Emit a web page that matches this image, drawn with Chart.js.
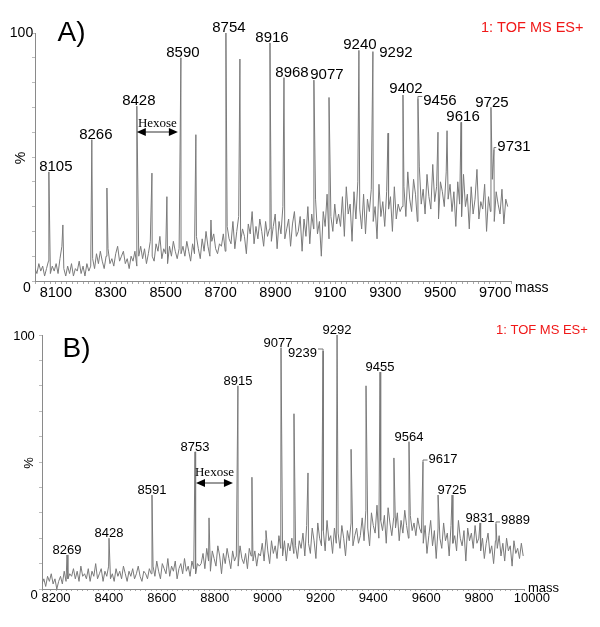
<!DOCTYPE html>
<html><head><meta charset="utf-8">
<script src="https://cdn.jsdelivr.net/npm/chart.js@4"></script>
<style>
html,body{margin:0;padding:0;background:#fff;width:600px;height:627px;overflow:hidden}
#wa{position:absolute;left:0;top:0;width:600px;height:310px}
#wb{position:absolute;left:0;top:310px;width:600px;height:317px}
</style></head><body>
<div id="wa"><canvas id="ca"></canvas></div>
<div id="wb"><canvas id="cb"></canvas></div>
<script>
// ---------- Panel A data ----------
const massStartA = 8024, massStepA = 7;
const noiseA = [
5,3,7,4,6,2,5,8,3,6,4,7,3,9,14,5,2,6,3,7,2,5,4,8,3,6,2,7,4,
6,9,5,11,7,12,8,5,10,13,7,9,6,11,14,8,10,12,7,9,5,10,
8,12,6,10,14,9,13,7,11,16,10,8,15,12,18,9,13,11,7,14,10,16,12,9,13,11,
14,10,16,12,8,15,11,18,13,9,17,12,20,14,10,16,19,13,11,15,
14,19,12,22,17,15,24,13,20,26,16,21,18,11,23,19,28,15,22,17,25,20,14,24,18,21,
16,22,27,13,24,19,30,17,21,25,14,23,28,18,20,26,
12,25,18,30,15,27,21,33,19,24,10,28,22,35,17,26,20,31,23,27,
22,34,18,38,27,31,16,36,25,40,29,21,35,19,33,28,37,24,30,17,39,26,32,22,36,29,34,20,38,25,31,28,
30,38,26,44,33,28,41,35,24,46,31,37,27,43,34,29,47,32,38,25,40,36,30,44,33,39,
28,36,22,40,31,26,43,30,35,21,38,27,33,45,25,32,29,39,20,34,28,41,24,36,31,27,37,23,33,30
];
const peakMassA   = [8074.5,8125.5,8231,8286,8395,8450,8504.5,8555.5,8610,8665,8719.5,8770.5,8880,8931,9040,9095,9204,9255,9310,9364.5,9419,9492,9525,9576,9685,9696];
const peakHeightA = [44,22.6,57,37.5,70.5,43.5,34,90,59,24.6,100,89.5,96,82,81,74,93,92.5,59.6,75,73.6,60,60.6,64,70,53];
const peakTextA   = ['8105','','8266','','8428','','','8590','','','8754','','8916','8968','9077','','9240','9292','','9402','9456','','','9616','9725','9731'];
const tickLabelsA = [8100,8300,8500,8700,8900,9100,9300,9500,9700];

// ---------- Panel B data ----------
const massStartB = 8147, massStepB = 7;
const noiseB = [
2,4,1,5,3,6,2,4,0,3,5,2,7,3,4,6,
5,8,4,7,3,9,5,6,4,8,3,7,5,10,4,6,8,3,7,5,9,4,6,3,8,5,7,4,9,6,3,7,5,8,4,6,9,5,3,7,6,4,8,
6,9,5,11,7,4,10,8,6,12,5,9,7,11,4,8,10,6,12,7,9,5,11,8,6,10,9,
10,14,8,16,11,7,15,12,9,17,13,6,14,10,16,12,8,15,11,13,9,17,12,10,14,8,16,13,11,15,9,14,
13,18,11,20,15,10,19,14,17,12,21,16,13,19,11,18,15,20,14,17,12,19,
16,22,13,25,18,14,24,19,12,26,20,17,23,15,27,19,21,14,24,18,22,16,25,20,13,23,19,26,17,21,24,18,
21,28,19,31,24,17,30,25,22,33,20,27,23,29,18,32,26,21,28,24,30,19,27,22,31,25,20,29,23,26,21,28,24,
22,18,25,14,21,27,17,23,12,24,20,16,26,19,22,13,25,18,21,15,27,20,17,23,11,24,19,22,16,25,18,20,
15,20,12,18,22,14,17,10,19,16,21,13,18,11,20,15,17,9,19,14,16,12,18,13
];
const peakMassB   = [8241.6,8400.5,8563,8725.7,8778.7,8888,8941,8994,9051,9100,9153,9210,9263,9316,9372.5,9425.4,9478,9535,9588,9645,9698,9803.6,9864];
const peakHeightB = [13.4,20,37,54,28,80,44,23,95,69,45.7,93.7,100,55,80,85.4,51.6,58,50,37,37,26,25.6];
const peakTextB   = ['8269','8428','8591','8753','','8915','','','9077','','','9239','9292','','','9455','','9564','9617','','9725','9831','9889'];
const tickLabelsB = [8200,8400,8600,8800,9000,9200,9400,9600,9800,10000];

const tickStep = 20;

// ---------- helpers ----------
function buildSeries(start, step, noise, pm, ph) {
  const pts = noise.map((v, i) => ({x: start + i * step, y: v}));
  pm.forEach((m, i) => pts.push({x: m, y: ph[i]}));
  pts.sort((a, b) => a.x - b.x);
  return pts;
}
const FONT = '"Liberation Sans", Arial, sans-serif';

function decoPlugin(c) {
  return {
    id: 'deco',
    afterDraw(chart) {
      const ctx = chart.ctx, xs = chart.scales.x, ys = chart.scales.y;
      ctx.save();
      ctx.fillStyle = '#000';
      ctx.strokeStyle = '#000';
      // x tick labels (drawn at scale positions, may extend past axis end)
      ctx.font = c.tickSize + 'px ' + FONT;
      ctx.textAlign = 'center';
      ctx.textBaseline = 'middle';
      c.ticks.forEach(v => ctx.fillText(String(v), xs.getPixelForValue(v), c.tickY));
      // peak labels
      ctx.font = c.labelSize + 'px ' + FONT;
      ctx.textAlign = 'center';
      ctx.textBaseline = 'alphabetic';
      c.pm.forEach((m, i) => {
        const t = c.pt[i];
        if (!t) return;
        const nd = c.nudge[t] || [0, 0];
        const ax = xs.getPixelForValue(m), ay = ys.getPixelForValue(c.ph[i]);
        const px = ax + nd[0], py = ay - 1 + nd[1];
        ctx.fillText(t, px, py);
        if (c.leaders.includes(t)) {
          const w = ctx.measureText(t).width;
          const ly = ay - 2;
          const lx = nd[0] > 0 ? px - w / 2 - 1 : px + w / 2 + 1;
          ctx.strokeStyle = '#777';
          ctx.lineWidth = 1;
          ctx.beginPath(); ctx.moveTo(ax, ay); ctx.lineTo(ax, ly); ctx.lineTo(lx, ly); ctx.stroke();
        }
      });
      // y labels
      ctx.font = c.axisSize + 'px ' + FONT;
      ctx.textBaseline = 'middle';
      ctx.textAlign = 'center';
      ctx.fillText('100', c.y100[0], c.y100[1]);
      ctx.fillText('0', c.y0[0], c.y0[1]);
      ctx.save();
      ctx.translate(c.pct[0], c.pct[1]);
      ctx.rotate(-Math.PI / 2);
      ctx.fillText('%', 0, 0);
      ctx.restore();
      // mass
      ctx.textAlign = 'left';
      ctx.textBaseline = 'alphabetic';
      ctx.fillText('mass', c.mass[0], c.mass[1]);
      // panel letter
      ctx.font = c.titleSize + 'px ' + FONT;
      ctx.textAlign = 'center';
      ctx.textBaseline = 'middle';
      ctx.fillText(c.title, c.titlePos[0], c.titlePos[1]);
      // red tag
      ctx.font = c.tagSize + 'px ' + FONT;
      ctx.fillStyle = '#f01818';
      ctx.textAlign = 'left';
      ctx.fillText('1: TOF MS ES+', c.tag[0], c.tag[1]);
      // hexose arrow
      ctx.fillStyle = '#000';
      const x1 = xs.getPixelForValue(c.hex[0]) + c.hexInset[0];
      const x2 = xs.getPixelForValue(c.hex[1]) - c.hexInset[1];
      const ay = c.hexY;
      ctx.lineWidth = 1.5;
      ctx.beginPath(); ctx.moveTo(x1 + 6, ay); ctx.lineTo(x2 - 6, ay); ctx.stroke();
      ctx.beginPath(); ctx.moveTo(x1, ay); ctx.lineTo(x1 + 9, ay - 4); ctx.lineTo(x1 + 9, ay + 4); ctx.closePath(); ctx.fill();
      ctx.beginPath(); ctx.moveTo(x2, ay); ctx.lineTo(x2 - 9, ay - 4); ctx.lineTo(x2 - 9, ay + 4); ctx.closePath(); ctx.fill();
      ctx.font = '13px "Liberation Serif", "Times New Roman", serif';
      ctx.textAlign = 'center';
      ctx.textBaseline = 'alphabetic';
      ctx.fillText('Hexose', (x1 + x2) / 2, c.hexTextY);
      ctx.restore();
    }
  };
}

function makeChart(id, series, xmin, xmax, pad, yW, xH, tickLen, deco) {
  return new Chart(document.getElementById(id), {
    type: 'line',
    data: { datasets: [{ data: series, borderColor: '#7a7a7a', borderWidth: 1, pointRadius: 0, tension: 0, fill: false }] },
    options: {
      responsive: true, maintainAspectRatio: false, animation: false,
      layout: { padding: pad },
      plugins: { legend: { display: false }, tooltip: { enabled: false } },
      scales: {
        x: {
          type: 'linear', min: xmin, max: xmax,
          afterFit: s => { s.height = xH; },
          border: { display: true, color: '#8a8a8a', width: 1 },
          grid: { display: true, drawOnChartArea: false, drawTicks: true, tickLength: tickLen, color: '#aaa' },
          ticks: { stepSize: tickStep, autoSkip: false, maxRotation: 0, minRotation: 0, display: false }
        },
        y: {
          type: 'linear', min: 0, max: 100,
          afterFit: s => { s.width = yW; },
          border: { display: true, color: '#8a8a8a', width: 1 },
          grid: { display: true, drawOnChartArea: false, drawTicks: true, tickLength: 3, color: '#bbb' },
          ticks: { stepSize: 10, display: false }
        }
      }
    },
    plugins: [decoPlugin(deco)]
  });
}

makeChart('ca', buildSeries(massStartA, massStepA, noiseA, peakMassA, peakHeightA),
  8024, 9758, { top: 33, left: 0, right: 89, bottom: 0 }, 35, 29, 3, {
    pm: peakMassA, ph: peakHeightA, pt: peakTextA, labelSize: 15, axisSize: 14,
    ticks: tickLabelsA, tickSize: 14.5, tickY: 293,
    nudge: { '8105': [7, 0], '8266': [4, 0], '8428': [2, 0], '8590': [2, 0], '8754': [3, 0], '8916': [2, 0], '8968': [8, 0],
             '9077': [13, 0], '9240': [1, 0], '9292': [23, 6], '9402': [3, -1], '9456': [22, 8], '9616': [2, 0], '9725': [1, 1], '9731': [20, 2] },
    leaders: ['9456', '9731'],
    y100: [21.5, 33], y0: [27, 288], pct: [21, 158], mass: [515, 292],
    title: 'A)', titleSize: 28, titlePos: [71.5, 33], tag: [481, 28], tagSize: 14.5,
    hex: [8395, 8555.5], hexInset: [0, 3], hexY: 132, hexTextY: 127
  });

makeChart('cb', buildSeries(massStartB, massStepB, noiseB, peakMassB, peakHeightB),
  8147, 9970, { top: 25, left: 0, right: 76, bottom: 0 }, 42, 38, 2, {
    pm: peakMassB, ph: peakHeightB, pt: peakTextB, labelSize: 13, axisSize: 13,
    ticks: tickLabelsB, tickSize: 13, tickY: 288,
    nudge: { '9077': [-3, 0], '9239': [-20.5, 7], '9617': [20, 1.5], '9889': [19.5, 1] },
    leaders: ['9239', '9617', '9889'],
    y100: [24, 26], y0: [34, 285], pct: [29, 153], mass: [528, 282],
    title: 'B)', titleSize: 28, titlePos: [76.5, 39], tag: [496, 20], tagSize: 13,
    hex: [8725.7, 8888], hexInset: [1, 5], hexY: 173, hexTextY: 166
  });
</script>
</body></html>
